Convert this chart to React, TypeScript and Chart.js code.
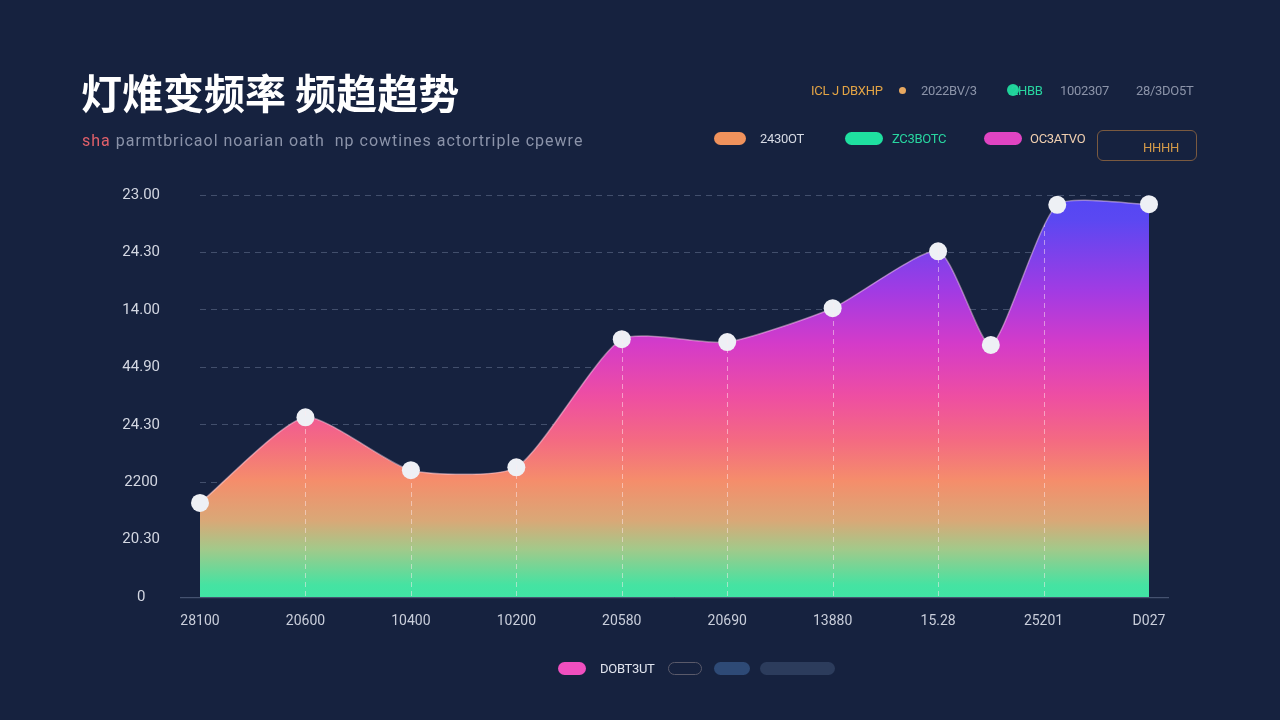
import React, { useEffect, useRef } from "react";
import { Chart, registerables } from "chart.js";

Chart.register(...registerables);

// x positions (category index units) and values
const xPositions = [0, 1, 2, 3, 4, 5, 6, 7, 7.5, 8.13, 9];
const seriesValues = [16.4, 31.3, 22.1, 22.6, 44.9, 44.4, 50.3, 60.2, 43.9, 68.3, 68.4];
const xTickLabels = ["28100", "20600", "10400", "10200", "20580", "20690", "13880", "15.28", "25201", "D027"];
const yTickLabels = ["0", "20.30", "2200", "24.30", "44.90", "14.00", "24.30", "23.00"];

const BG = "#16223f";

const pill = (left: number, top: number, width: number, color: string, extra: React.CSSProperties = {}) => (
  <div
    style={{
      position: "absolute",
      left,
      top,
      width,
      height: 13,
      borderRadius: 7,
      background: color,
      ...extra,
    }}
  />
);

const txt = (left: number, top: number, s: string, color: string, size = 13) => (
  <div
    style={{
      position: "absolute",
      left,
      top,
      fontFamily: "Roboto, 'DejaVu Sans', sans-serif",
      fontSize: size,
      color,
      letterSpacing: -0.3,
      whiteSpace: "nowrap",
      lineHeight: 1,
    }}
  >
    {s}
  </div>
);

export default function App() {
  const ref = useRef<HTMLCanvasElement>(null);

  useEffect(() => {
    if (!ref.current) return;
    const data = xPositions.map((x, i) => ({ x, y: seriesValues[i] }));

    const vDash = {
      id: "vDash",
      afterDatasetsDraw(chart: any) {
        const { ctx, chartArea, scales } = chart;
        ctx.save();
        ctx.globalCompositeOperation = "source-atop";
        ctx.strokeStyle = "rgba(255,235,240,0.5)";
        ctx.lineWidth = 1;
        ctx.setLineDash([5, 4]);
        for (let i = 1; i < xTickLabels.length - 1; i++) {
          const px = Math.round(scales.x.getPixelForValue(i)) + 0.5;
          ctx.beginPath();
          ctx.moveTo(px, chartArea.top);
          ctx.lineTo(px, chartArea.bottom);
          ctx.stroke();
        }
        ctx.restore();
        // baseline
        ctx.save();
        ctx.strokeStyle = "rgba(120,135,165,0.6)";
        ctx.lineWidth = 1;
        ctx.beginPath();
        ctx.moveTo(chartArea.left - 20, chartArea.bottom + 0.5);
        ctx.lineTo(chartArea.right + 20, chartArea.bottom + 0.5);
        ctx.stroke();
        ctx.restore();
      },
    };

    const chart = new Chart(ref.current, {
      type: "line",
      data: {
        datasets: [
          {
            data,
            parsing: false as any,
            fill: "origin",
            tension: 0.2,
            clip: false as any,
            borderColor: "rgba(255,220,235,0.45)",
            borderWidth: 1.5,
            pointRadius: 9,
            pointBackgroundColor: "#eef0f5",
            pointBorderWidth: 0,
            backgroundColor: (c: any) => {
              const { ctx, chartArea } = c.chart;
              if (!chartArea) return "#f07090";
              const g = ctx.createLinearGradient(0, chartArea.top, 0, chartArea.bottom);
              g.addColorStop(0.0, "#5446f4");
              g.addColorStop(0.06, "#5a48f2");
              g.addColorStop(0.24, "#a23be3");
              g.addColorStop(0.37, "#d43bc9");
              g.addColorStop(0.5, "#ee4ea2");
              g.addColorStop(0.61, "#f46a82");
              g.addColorStop(0.71, "#f58d6b");
              g.addColorStop(0.81, "#d9a877");
              g.addColorStop(0.88, "#a3c98a");
              g.addColorStop(0.97, "#45e3a2");
              g.addColorStop(1.0, "#40e4a4");
              return g;
            },
          },
        ],
      },
      options: {
        responsive: false,
        animation: false,
        layout: { padding: { left: 100, right: 131, top: 195, bottom: 74 } },
        plugins: { legend: { display: false }, tooltip: { enabled: false } },
        scales: {
          x: {
            type: "linear",
            min: 0,
            max: 9,
            grid: { display: false, drawTicks: false },
            border: { display: false },
            ticks: {
              stepSize: 1,
              padding: 16,
              color: "#c9cedb",
              font: { family: "Roboto", size: 14 },
              callback: (v: any) => xTickLabels[Math.round(Number(v))] ?? "",
            },
          },
          y: {
            min: 0,
            max: 70,
            afterFit: (s: any) => {
              s.width = 100;
            },
            grid: {
              drawTicks: false,
              color: (c: any) => (c.tick && c.tick.value === 0 ? "rgba(0,0,0,0)" : "rgba(120,135,165,0.45)"),
              lineWidth: 1,
            },
            border: { display: false, dash: [6, 5] },
            ticks: {
              stepSize: 10,
              padding: 40,
              crossAlign: "center",
              color: "#d3d7e2",
              font: { family: "Roboto", size: 15 },
              callback: (v: any) => yTickLabels[Math.round(Number(v) / 10)] ?? "",
            },
          },
        },
      } as any,
      plugins: [vDash],
    });
    return () => chart.destroy();
  }, []);

  return (
    <div style={{ position: "fixed", left: 0, top: 0, width: 1280, height: 720, background: BG, overflow: "hidden" }}>
      <canvas ref={ref} width={1280} height={720} style={{ position: "absolute", left: 0, top: 0 }} />
      <div
        style={{
          position: "absolute",
          left: 81,
          top: 69,
          fontFamily: "'Noto Sans CJK SC', sans-serif",
          fontWeight: 700,
          fontSize: 41,
          color: "#ffffff",
          letterSpacing: 0,
          lineHeight: 1.1,
          whiteSpace: "nowrap",
        }}
      >
        灯焳变频率 频趋趋势
      </div>
      <div
        style={{
          position: "absolute",
          left: 82,
          top: 131,
          fontFamily: "Roboto, sans-serif",
          fontSize: 16,
          color: "#8b93a9",
          letterSpacing: 1,
          whiteSpace: "nowrap",
        }}
      >
        <span style={{ color: "#e0606a" }}>sha</span> parmtbricaol noarian oath&nbsp; np cowtines actortriple cpewre
      </div>

      {/* top legend row 1 */}
      {txt(811, 84, "ICL J DBXHP", "#e3a445")}
      <div style={{ position: "absolute", left: 899, top: 87, width: 7, height: 7, borderRadius: 4, background: "#e8a860" }} />
      {txt(921, 84, "2022BV/3", "#8c94a9")}
      {pill(1007, 84, 12, "#1fd39a", { height: 12 })}
      {txt(1011, 84, "2HBB", "#28d6a0")}
      {txt(1060, 84, "1002307", "#8c94a9")}
      {txt(1136, 84, "28/3DO5T", "#8c94a9")}

      {/* top legend row 2 */}
      {pill(714, 132, 32, "#f0925c")}
      {txt(760, 132, "2430OT", "#d6dae4")}
      {pill(845, 132, 38, "#1fe0a0")}
      {txt(892, 132, "ZC3BOTC", "#28d6a0")}
      {pill(984, 132, 38, "#e044c2")}
      {txt(1030, 132, "OC3ATVO", "#f0cfb0")}
      <div
        style={{
          position: "absolute",
          left: 1097,
          top: 130,
          width: 100,
          height: 31,
          border: "1px solid #7a5a40",
          borderRadius: 6,
          boxSizing: "border-box",
        }}
      />
      {txt(1143, 141, "HHHH", "#d49a48")}

      {/* bottom legend */}
      {pill(558, 662, 28, "#f04fbf")}
      {txt(600, 662, "DOBT3UT", "#e0e4ee")}
      {pill(668, 662, 34, "transparent", { border: "1px solid #5a5a6a", boxSizing: "border-box" })}
      {pill(714, 662, 36, "#2e4a76")}
      {pill(760, 662, 75, "#2c3c5c")}
    </div>
  );
}
